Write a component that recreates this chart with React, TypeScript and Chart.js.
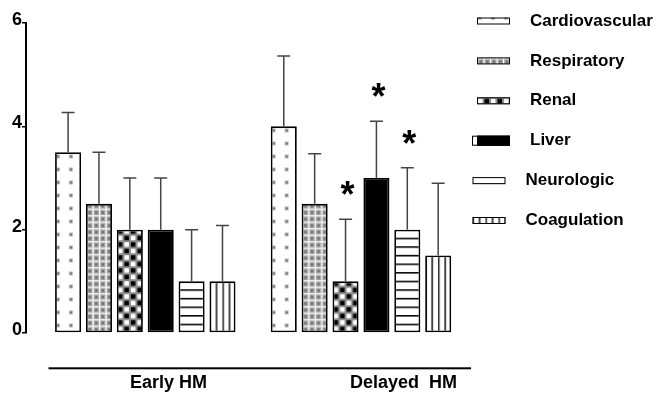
import { useEffect, useRef } from 'react';
import { Chart, registerables } from 'chart.js';

Chart.register(...registerables);

// ---------------- data ----------------
const GROUPS = ['Early HM', 'Delayed  HM'];
const GROUP_X = [0, 1];
const SERIES = ['Cardiovascular', 'Respiratory', 'Renal', 'Liver', 'Neurologic', 'Coagulation'];

const CARDIO_MEAN = [3.5, 4.0];
const CARDIO_SD = [0.77, 1.36];
const RESP_MEAN = [2.5, 2.5];
const RESP_SD = [1.0, 0.97];
const RENAL_MEAN = [2.0, 1.0];
const RENAL_SD = [1.0, 1.2];
const LIVER_MEAN = [2.0, 3.0];
const LIVER_SD = [1.0, 1.1];
const NEURO_MEAN = [1.0, 2.0];
const NEURO_SD = [1.0, 1.2];
const COAG_MEAN = [1.0, 1.5];
const COAG_SD = [1.08, 1.4];

const CARDIO_SIG = [false, false];
const RESP_SIG = [false, false];
const RENAL_SIG = [false, true];
const LIVER_SIG = [false, true];
const NEURO_SIG = [false, true];
const COAG_SIG = [false, false];

const Y_MIN = 0;
const Y_MAX = 6;
const Y_STEP = 2;

const MEANS = [CARDIO_MEAN, RESP_MEAN, RENAL_MEAN, LIVER_MEAN, NEURO_MEAN, COAG_MEAN];
const SDS = [CARDIO_SD, RESP_SD, RENAL_SD, LIVER_SD, NEURO_SD, COAG_SD];
const SIGS = [CARDIO_SIG, RESP_SIG, RENAL_SIG, LIVER_SIG, NEURO_SIG, COAG_SIG];

// ---------------- layout / style ----------------
const FONT = '"Liberation Sans", Arial, Helvetica, sans-serif';
const X_PX_PER_UNIT = 215.7;
const X_MIN = -0.553;
const LABEL_POS = [0.108, 1.197];

function makeTile(w: number, h: number, draw: (g: CanvasRenderingContext2D) => void) {
  const c = document.createElement('canvas');
  c.width = w;
  c.height = h;
  const g = c.getContext('2d') as CanvasRenderingContext2D;
  draw(g);
  return c;
}

function buildTiles() {
  const cardio = makeTile(13, 13, (g) => {
    g.fillStyle = '#ffffff';
    g.fillRect(0, 0, 13, 13);
    g.fillStyle = '#c4c4c4';
    g.fillRect(0.8, 4.2, 4, 4);
    g.fillStyle = '#7a7a7a';
    g.fillRect(1.6, 5, 2.5, 2.5);
  });
  const resp = makeTile(13, 13, (g) => {
    g.fillStyle = '#a4a4a4';
    g.fillRect(0, 0, 13, 13);
    g.fillStyle = '#ffffff';
    g.fillRect(0, 0, 1.2, 13);
    g.fillRect(6.5, 0, 1.2, 13);
    g.fillRect(0, 0, 13, 1.2);
    g.fillRect(0, 6.5, 13, 1.2);
    g.fillStyle = '#707070';
    g.fillRect(2.6, 2.6, 2.4, 2.4);
    g.fillRect(9.1, 2.6, 2.4, 2.4);
    g.fillRect(2.6, 9.1, 2.4, 2.4);
    g.fillRect(9.1, 9.1, 2.4, 2.4);
  });
  const renal = makeTile(13, 13, (g) => {
    g.fillStyle = '#8c8c8c';
    g.fillRect(0, 0, 13, 13);
    g.fillStyle = '#000000';
    g.fillRect(1, 1, 4.5, 4.5);
    g.fillRect(7.5, 7.5, 4.5, 4.5);
    g.fillStyle = '#ffffff';
    g.fillRect(7.5, 1, 4.5, 4.5);
    g.fillRect(1, 7.5, 4.5, 4.5);
  });
  const liver = makeTile(4, 4, (g) => {
    g.fillStyle = '#000000';
    g.fillRect(0, 0, 4, 4);
  });
  const neuro = makeTile(4, 9, (g) => {
    g.fillStyle = '#ffffff';
    g.fillRect(0, 0, 4, 9);
    g.fillStyle = '#000000';
    g.fillRect(0, 0, 4, 1.6);
  });
  const coag = makeTile(13, 4, (g) => {
    g.fillStyle = '#ffffff';
    g.fillRect(0, 0, 13, 4);
    g.fillStyle = '#000000';
    g.fillRect(0, 0, 1.3, 4);
    g.fillRect(6.35, 0, 1.4, 4);
  });
  return [cardio, resp, renal, liver, neuro, coag];
}
const TILE_SCALE = [1, 1, 1, 1, 8.6 / 9, 1];

export default function App() {
  const ref = useRef<HTMLCanvasElement>(null);

  useEffect(() => {
    const canvas = ref.current;
    if (!canvas) return;
    const ctx = canvas.getContext('2d') as CanvasRenderingContext2D;
    const tiles = buildTiles();
    const patterns = SERIES.map((_, si) =>
      GROUP_X.map(() => ctx.createPattern(tiles[si], 'repeat') as CanvasPattern)
    );
    const legendPatterns = SERIES.map((_, si) => ctx.createPattern(tiles[si], 'repeat') as CanvasPattern);

    const decor = {
      id: 'decor',
      beforeDatasetsDraw(chart: any) {
        chart.data.datasets.forEach((_ds: any, si: number) => {
          const meta = chart.getDatasetMeta(si);
          meta.data.forEach((el: any, j: number) => {
            const p = patterns[si][j];
            const { x, width, base } = el.getProps(['x', 'width', 'base'], true);
            const s = TILE_SCALE[si];
            p.setTransform(new DOMMatrix([s, 0, 0, s, x - width / 2, base]));
          });
        });
      },
      afterDatasetsDraw(chart: any) {
        const g = chart.ctx as CanvasRenderingContext2D;
        const yS = chart.scales.y;
        chart.data.datasets.forEach((_ds: any, si: number) => {
          const meta = chart.getDatasetMeta(si);
          meta.data.forEach((el: any, j: number) => {
            const { x, y } = el.getProps(['x', 'y'], true);
            const top = yS.getPixelForValue(MEANS[si][j] + SDS[si][j]);
            g.save();
            g.strokeStyle = '#444444';
            g.lineWidth = 1.5;
            g.beginPath();
            g.moveTo(x, y);
            g.lineTo(x, top);
            g.moveTo(x - 6.5, top);
            g.lineTo(x + 6.5, top);
            g.stroke();
            if (SIGS[si][j]) {
              g.fillStyle = '#000000';
              g.font = `bold 36px ${FONT}`;
              g.textAlign = 'center';
              g.textBaseline = 'alphabetic';
              g.fillText('*', x + 2, top - 33 + 21);
            }
            g.restore();
          });
        });
      },
      afterDraw(chart: any) {
        const g = chart.ctx as CanvasRenderingContext2D;
        const ca = chart.chartArea;
        g.save();
        // group baseline rule
        g.fillStyle = '#000000';
        g.fillRect(ca.left + 22.5, ca.bottom + 34.3, ca.right - ca.left - 22.5, 2);
        // legend
        const top = 21;
        const step = 39.9;
        g.font = `bold 17px ${FONT}`;
        g.textAlign = 'left';
        g.textBaseline = 'middle';
        SERIES.forEach((name, i) => {
          const cy = top + i * step;
          const shift = i >= 4 ? -4.5 : 0;
          const bx = 477 + shift;
          const bw = 33;
          const bh = i === 3 ? 10 : 7;
          const by = cy - bh / 2;
          if (i === 3) {
            g.fillStyle = '#ffffff';
            g.fillRect(bx - 5, by, 5, bh);
            g.strokeStyle = '#000000';
            g.lineWidth = 1;
            g.strokeRect(bx - 5 + 0.5, by + 0.5, bw + 4, bh - 1);
          }
          const p = legendPatterns[i];
          p.setTransform(new DOMMatrix([1, 0, 0, 1, bx, by + bh]));
          g.fillStyle = p;
          g.fillRect(bx, by, bw, bh);
          g.strokeStyle = '#000000';
          g.lineWidth = 1;
          g.strokeRect(bx + 0.5, by + 0.5, bw - 1, bh - 1);
          g.fillStyle = '#000000';
          g.fillText(name, 530 + shift, cy);
        });
        g.restore();
      },
    };

    const chart = new Chart(canvas, {
      type: 'bar',
      data: {
        datasets: SERIES.map((name, si) => ({
          label: name,
          data: GROUP_X.map((gx, gi) => ({ x: gx, y: MEANS[si][gi] })),
          backgroundColor: (c: any) =>
            c.type === 'data' && patterns[si][c.dataIndex] ? patterns[si][c.dataIndex] : '#ffffff',
          borderColor: '#000000',
          borderWidth: 1.8,
          borderSkipped: false,
          categoryPercentage: 0.859,
          barPercentage: 0.843,
        })),
      },
      options: {
        responsive: false,
        animation: false,
        devicePixelRatio: 1,
        layout: { padding: { top: 23, right: 185, bottom: 0, left: 0 } },
        plugins: {
          legend: { display: false },
          tooltip: { enabled: false },
        },
        scales: {
          x: {
            type: 'linear',
            position: 'bottom',
            offset: false,
            bounds: 'data',
            grid: { display: false, drawTicks: false },
            border: { display: false },
            ticks: {
              autoSkip: false,
              maxRotation: 0,
              padding: 39,
              color: '#000000',
              font: { family: FONT, size: 18, weight: 'bold' },
              callback: (_v: any, i: number) => GROUPS[i],
            },
            afterDataLimits: (s: any) => {
              s.min = X_MIN;
              s.max = X_MIN + s.width / X_PX_PER_UNIT;
            },
            afterBuildTicks: (s: any) => {
              s.ticks = LABEL_POS.map((v) => ({ value: v }));
            },
            afterFit: (s: any) => {
              s.height = 60;
            },
          },
          y: {
            type: 'linear',
            min: Y_MIN,
            max: Y_MAX,
            grid: {
              drawOnChartArea: false,
              drawTicks: true,
              tickLength: 4,
              color: '#000000',
              lineWidth: 1.5,
            },
            border: { display: true, color: '#000000', width: 2 },
            ticks: {
              stepSize: Y_STEP,
              padding: 0,
              labelOffset: -3,
              color: '#000000',
              font: { family: FONT, size: 18, weight: 'bold' },
            },
            afterFit: (s: any) => {
              s.width = 26;
            },
          },
        },
      } as any,
      plugins: [decor],
    });

    return () => chart.destroy();
  }, []);

  return (
    <div style={{ position: 'absolute', left: 0, top: 0, width: 656, height: 393, background: '#ffffff' }}>
      <canvas ref={ref} width={656} height={393} style={{ display: 'block' }} />
    </div>
  );
}
